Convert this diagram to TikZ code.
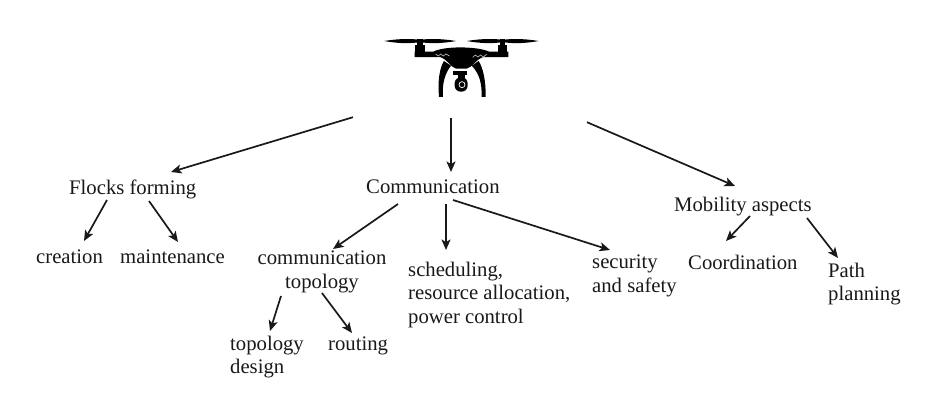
\documentclass[tikz,border=0pt]{standalone}
\usepackage{fontspec}
\setmainfont{Liberation Serif}
\usetikzlibrary{arrows.meta}
\tikzset{
  lbl/.style={inner sep=0pt,anchor=base west,font=\fontsize{20.7}{23.3}\selectfont,text=black!90},
  arr/.style={-{Stealth[length=10.5pt,width=9pt,inset=2.5pt]},line width=1.7pt,black!90}
}
\begin{document}
\begin{tikzpicture}[x=1pt,y=-1pt]
\useasboundingbox (0,0) rectangle (927,405);
\fill[white] (0,0) rectangle (927,405);
% drone, drawn in zoomed coordinates
\node[inner sep=0pt,minimum width=155pt,minimum height=75pt] (drone) at (462,62) {};
\begin{scope}[shift={(370,25)},x=0.3333pt,y=-0.3333pt,black]
  \foreach \cx in {150,398}{
    \fill (\cx-107,48) .. controls (\cx-60,40) and (\cx-20,41) .. (\cx,45) .. controls (\cx+20,41) and (\cx+60,40) .. (\cx+108,48) .. controls (\cx+60,57) and (\cx+20,55) .. (\cx,51) .. controls (\cx-20,55) and (\cx-60,57) .. (\cx-107,48) -- cycle;
    \fill (\cx-8,41) rectangle (\cx+8,60);
    \fill (\cx-14,60) rectangle (\cx+14,80);
  }
  \fill (134,80) -- (190,80) .. controls (220,63) and (320,63) .. (358,80) -- (415,80) -- (415,96) -- (340,96) .. controls (315,105) and (310,125) .. (290,131) -- (258,131) .. controls (240,125) and (235,105) .. (210,96) -- (134,96) -- cycle;
  % leg left
  \fill (222,108) .. controls (208,130) and (203,170) .. (207,216) -- (219,216) .. controls (216,175) and (225,145) .. (243,122) -- cycle;
  % leg right
  \fill (326,108) .. controls (340,130) and (348,170) .. (347,216) -- (335,216) .. controls (336,175) and (328,145) .. (305,122) -- cycle;
  % camera
  \fill (248,139) rectangle (290,150);
  \fill (264,150) rectangle (284,158);
  \fill[rounded corners=6pt] (254,157) rectangle (293,200);
  \draw[white,line width=0.7pt] (276,179) circle (9);
  % vents
  \draw[black!30,line width=0.7pt] (197,87)--(205,93)--(212,87)--(220,93)--(228,87)--(238,93);
  \draw[black!30,line width=0.7pt] (308,97)--(316,90)--(324,96)--(332,90)--(340,96)--(350,88);
\end{scope}
% labels
\node[lbl] (flocks) at (69,194) {Flocks forming};
\node[lbl] (comm) at (366,193) {Communication};
\node[lbl] (mob) at (674,211) {Mobility aspects};
\node[lbl] (creation) at (36,263) {creation};
\node[lbl] (maint) at (120,263) {maintenance};
\node[lbl,anchor=north,align=center] (topo) at (322,251) {communication\\topology};
\node[lbl,anchor=north west,align=left] (sched) at (408,262) {scheduling,\\resource allocation,\\power control};
\node[lbl,anchor=north west,align=left] (sec) at (592,255) {security\\and safety};
\node[lbl] (coord) at (688,269) {Coordination};
\node[lbl,anchor=north west,align=left] (path) at (828,263) {Path\\planning};
\node[lbl,anchor=north west,align=left] (tdesign) at (230,336) {topology\\design};
\node[lbl] (routing) at (328,350) {routing};
% connectors
\draw[arr] ([shift={(-109,17.5)}]drone.south) -- ([shift={(102,-22)}]flocks.base west);
\draw[arr] ([shift={(-11,18.5)}]drone.south) -- ([shift={(85,-21)}]comm.base west);
\draw[arr] ([shift={(125,22.5)}]drone.south) -- ([shift={(61,-25)}]mob.base west);
\draw[arr] ([shift={(38,6)}]flocks.base west) -- ([shift={(48,-22)}]creation.base west);
\draw[arr] ([shift={(80,7)}]flocks.base west) -- ([shift={(58,-21)}]maint.base west);
\draw[arr] ([shift={(32,11)}]comm.base west) -- ([shift={(11,-2)}]topo.north);
\draw[arr] ([shift={(80,11)}]comm.base west) -- ([shift={(38,-12)}]sched.north west);
\draw[arr] ([shift={(87,7)}]comm.base west) -- ([shift={(18,-5)}]sec.north west);
\draw[arr] ([shift={(76,5)}]mob.base west) -- ([shift={(38,-28)}]coord.base west);
\draw[arr] ([shift={(133,7)}]mob.base west) -- ([shift={(10,-5)}]path.north west);
\draw[arr] ([shift={(-41,45)}]topo.north) -- ([shift={(40,-5)}]tdesign.north west);
\draw[arr] ([shift={(0,42)}]topo.north) -- ([shift={(24,-17)}]routing.base west);
\end{tikzpicture}
\end{document}
